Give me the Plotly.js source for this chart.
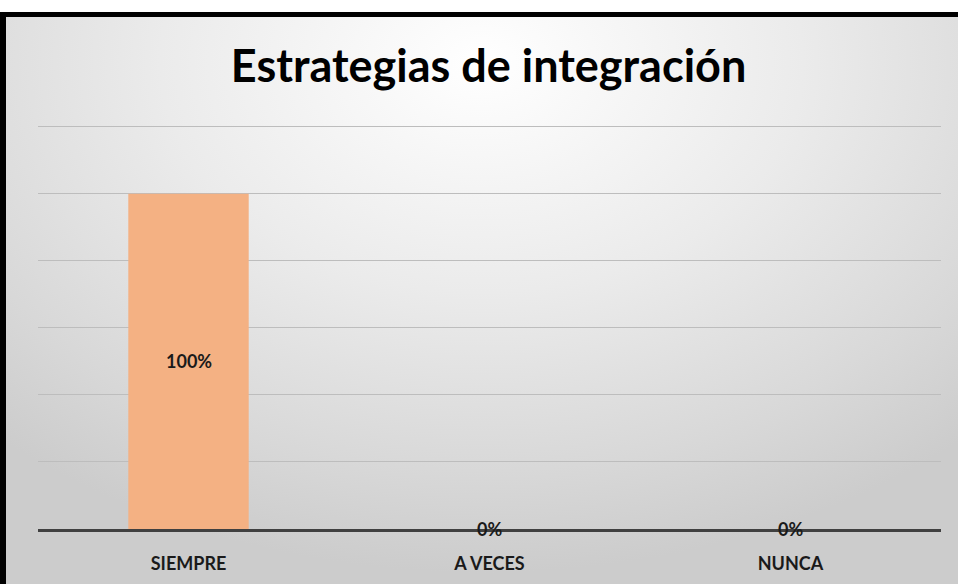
<!DOCTYPE html>
<html>
<head>
<meta charset="utf-8">
<script src="https://cdn.plot.ly/plotly-3.0.1.min.js"></script>
<style>
  html, body { margin:0; padding:0; background:#ffffff; }
  #bg { position:absolute; left:0; top:12px; width:958px; height:572px; box-sizing:border-box;
        border-left:6px solid #000; border-top:5px solid #000;
        background: radial-gradient(ellipse 75% 90% at 50% 8%, #ffffff 0%, #ebebeb 45%, #d8d8d8 80%, #cccccc 100%); }
  #chart { position:absolute; left:0; top:0; width:958px; height:584px; }
</style>
</head>
<body>
<div id="bg"></div>
<div id="chart"></div>
<script>
const categories = ["SIEMPRE", "A VECES", "NUNCA"];
const values = [1.0, 0.0, 0.0];
const labels = ["100%", "0%", "0%"];
const gridValues = [0.2, 0.4, 0.6, 0.8, 1.0, 1.2];
const titleText = "Estrategias de integración";

const font = "Lato, 'Open Sans', sans-serif";

const trace = {
  type: "bar",
  x: categories,
  y: values,
  marker: { color: "#F4B183", line: { width: 0 } },
  hoverinfo: "skip"
};

const annotations = categories.map((c, i) => ({
  x: c, y: values[i] / 2, xref: "x", yref: "y",
  text: labels[i], showarrow: false,
  xanchor: "center", yanchor: "middle",
  font: { family: font, size: 18, color: "#1a1a1a", weight: "bold" }
}));

const layout = {
  width: 958, height: 584,
  margin: { l: 38, r: 17, t: 120, b: 55 },
  paper_bgcolor: "rgba(0,0,0,0)",
  plot_bgcolor: "rgba(0,0,0,0)",
  showlegend: false,
  bargap: 0.6,
  title: {
    text: titleText,
    x: 0.51, xanchor: "center",
    y: 0.887, yanchor: "middle", yref: "container",
    font: { family: font, size: 45, color: "#000000", weight: "bold" }
  },
  xaxis: {
    type: "category",
    showgrid: false,
    showline: true, linecolor: "#404040", linewidth: 3,
    ticks: "",
    ticklabelstandoff: 16,
    tickfont: { family: font, size: 18, color: "#1a1a1a", weight: "bold" },
    fixedrange: true
  },
  yaxis: {
    range: [0, 1.22],
    tickvals: gridValues,
    showticklabels: false,
    showgrid: true, gridcolor: "#bdbdbd", gridwidth: 1,
    zeroline: false,
    showline: false,
    fixedrange: true
  },
  annotations: annotations
};

Plotly.newPlot("chart", [trace], layout, { displayModeBar: false, staticPlot: true });
</script>
</body>
</html>
